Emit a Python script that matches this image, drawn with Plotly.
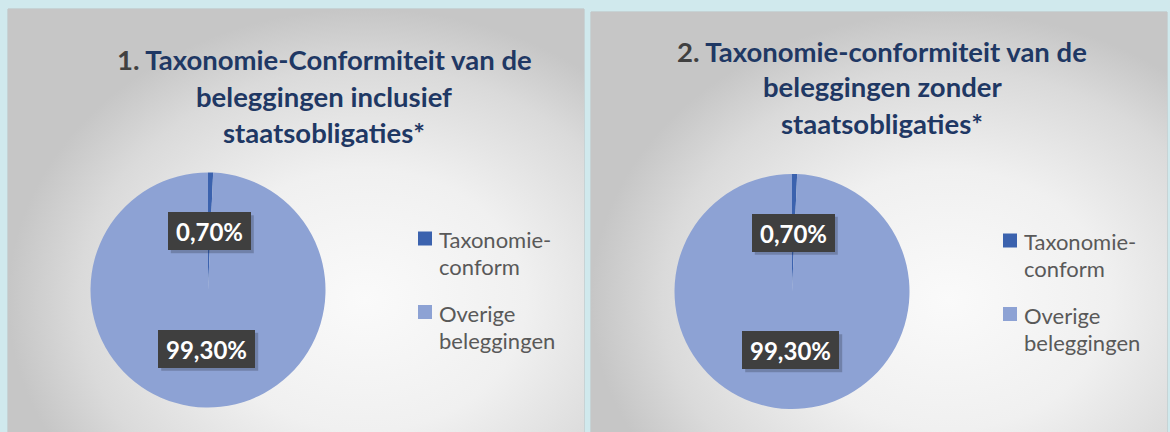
import math
import plotly.graph_objects as go

# ---- data ----
categories = ["Taxonomie-conform", "Overige beleggingen"]
legend_lines = [["Taxonomie-", "conform"], ["Overige", "beleggingen"]]
values_incl = [0.70, 99.30]
values_excl = [0.70, 99.30]
label_incl = ["0,70%", "99,30%"]
label_excl = ["0,70%", "99,30%"]
title_incl = ["1.", "Taxonomie-Conformiteit van de", "beleggingen inclusief", "staatsobligaties*"]
title_excl = ["2.", "Taxonomie-conformiteit van de", "beleggingen zonder", "staatsobligaties*"]
colors = ["#3b62ae", "#8da2d4"]

W, H = 1170, 432
fig = go.Figure()

panels = [(8, 584, 9), (591, 1167, 12)]
gradient = [[0, "#fafafa"], [0.45, "#f0f0f0"], [0.8, "#dadada"], [1, "#c6c6c6"]]
for i, (x0, x1, y0) in enumerate(panels):
    ax = "" if i == 0 else str(i + 1)
    gcx = x0 + 0.62 * (x1 - x0)
    gcy = 300
    gx1 = 2 * gcx - x0
    gy1 = 2 * gcy - y0
    fig.add_trace(go.Scatter(
        x=[x0, gx1, gx1, x0, x0], y=[y0, y0, gy1, gy1, y0],
        xaxis="x" + ax, yaxis="y" + ax,
        mode="lines", fill="toself", line=dict(width=0),
        fillgradient=dict(type="radial", colorscale=gradient),
        hoverinfo="skip", showlegend=False))
    fig.layout["xaxis" + ax] = dict(domain=[x0 / W, x1 / W], range=[x0, x1], visible=False,
                                    fixedrange=True, anchor="y" + ax)
    fig.layout["yaxis" + ax] = dict(domain=[0, 1 - y0 / H], range=[H, y0], visible=False,
                                    fixedrange=True, anchor="x" + ax)

pies = [
    dict(vals=values_incl, labels=label_incl, title=title_incl, cx=208, cy=290, r=117.5,
         tx=324, ty=[59, 96, 132], lx=418, ly=238.5),
    dict(vals=values_excl, labels=label_excl, title=title_excl, cx=792, cy=291.5, r=117.5,
         tx=882, ty=[51, 87, 123], lx=1003, ly=240.5),
]

annotations = []
shapes = []
for (x0, x1, y0) in panels:
    shapes.append(dict(type="rect", xref="paper", yref="paper", x0=x0 / W, x1=x1 / W,
                       y0=-0.01, y1=1 - y0 / H, line=dict(width=1, color="#bdbdbd"),
                       fillcolor="rgba(0,0,0,0)", layer="below"))

for p in pies:
    cx, cy, r = p["cx"], p["cy"], p["r"]
    fig.add_trace(go.Pie(
        labels=categories, values=p["vals"], sort=False, direction="clockwise", rotation=0,
        marker=dict(colors=colors, line=dict(width=0)), textinfo="none", hoverinfo="label+percent",
        showlegend=False,
        domain=dict(x=[(cx - r) / W, (cx + r) / W], y=[(H - cy - r) / H, (H - cy + r) / H])))
    # data labels at half radius along each slice's mid angle
    total = sum(p["vals"])
    cum = 0
    for v, lab in zip(p["vals"], p["labels"]):
        mid = (cum + v / 2) / total * 2 * math.pi
        cum += v
        px = cx + 0.5 * r * math.sin(mid)
        py = cy - 0.5 * r * math.cos(mid)
        bw = 14 * len(lab) + 5
        full_w, full_h = bw + 8, 38
        shapes.append(dict(type="rect", xref="paper", yref="paper",
                           x0=(px - full_w / 2 + 3) / W, x1=(px + full_w / 2 + 3) / W,
                           y0=1 - (py + full_h / 2 + 3) / H, y1=1 - (py - full_h / 2 + 3) / H,
                           fillcolor="rgba(0,0,0,0.20)", line=dict(width=0), layer="above"))
        annotations.append(dict(
            x=px / W, y=1 - py / H, xref="paper", yref="paper", showarrow=False,
            text=lab, font=dict(family="Lato", size=24, weight="bold", color="white"),
            bgcolor="#3f3f3f", width=bw, height=30, borderpad=3, borderwidth=1,
            bordercolor="#3f3f3f", xanchor="center", yanchor="middle"))
    # title
    t = p["title"]
    lines = [f"<span style='color:#404040'>{t[0]}</span> {t[1]}", t[2], t[3]]
    for txt, y in zip(lines, p["ty"]):
        annotations.append(dict(x=p["tx"] / W, y=1 - y / H, xref="paper", yref="paper",
                                showarrow=False, text=txt, xanchor="center", yanchor="middle",
                                font=dict(family="Lato", size=27.5, weight="bold", color="#1f3864")))
    # legend
    for i, (lines_i, c) in enumerate(zip(legend_lines, colors)):
        my = p["ly"] + i * 73.5
        shapes.append(dict(type="rect", xref="paper", yref="paper",
                           x0=p["lx"] / W, x1=(p["lx"] + 14) / W,
                           y0=1 - (my + 7) / H, y1=1 - (my - 7) / H,
                           fillcolor=c, line=dict(width=0)))
        for k, lt in enumerate(lines_i):
            annotations.append(dict(x=(p["lx"] + 19) / W, y=1 - (my + 1 + 27 * k) / H,
                                    xref="paper", yref="paper",
                                    showarrow=False, text=lt, xanchor="left", yanchor="middle",
                                    font=dict(family="Lato", size=22, color="#595959")))

fig.update_layout(
    width=W, height=H, margin=dict(l=0, r=0, t=0, b=0),
    paper_bgcolor="#d0e9ed", plot_bgcolor="rgba(0,0,0,0)",
    annotations=annotations, shapes=shapes, showlegend=False)

fig.write_html("out.html", config={"displayModeBar": False},
               post_script="document.body.style.margin='0';")
